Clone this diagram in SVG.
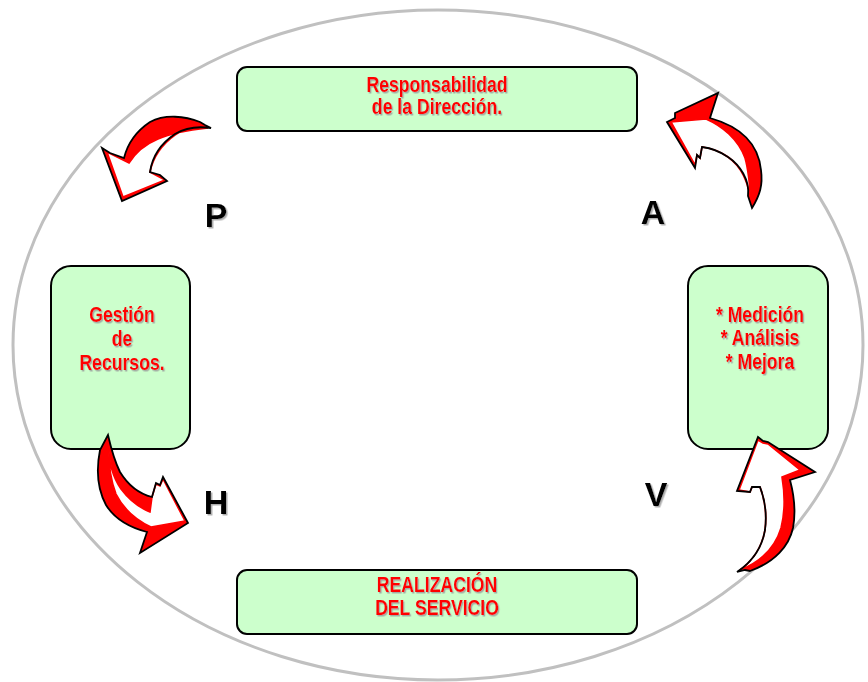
<svg xmlns="http://www.w3.org/2000/svg" width="868" height="682" viewBox="0 0 868 682">
  <style>
    .box { fill: #ccffcc; stroke: #000; stroke-width: 2; }
    .lbl { font-family: "Liberation Sans", Arial, sans-serif; font-weight: bold; font-size: 21.5px; fill: #ff0000; text-anchor: middle; filter: url(#shade); }
    .phase { font-family: "Liberation Sans", Arial, sans-serif; font-weight: bold; font-size: 34px; fill: #000; text-anchor: middle; filter: url(#shade); }
    .back { fill: #ff0000; stroke: none; }
    .face { fill: #fff; stroke: #ff0000; stroke-width: 1.6; }
    .edge { fill: none; stroke: #000; stroke-width: 1.8; stroke-linejoin: miter; }
  </style>
  <defs>
    <filter id="shade" x="-10%" y="-10%" width="130%" height="140%">
      <feDropShadow dx="1.5" dy="1.5" stdDeviation="0.6" flood-color="#999" flood-opacity="0.8"/>
    </filter>
  </defs>

  <rect width="868" height="682" fill="#fff"/>
  <ellipse cx="438" cy="345" rx="425" ry="335" fill="none" stroke="#c0c0c0" stroke-width="3"/>

  <g id="node-direccion">
    <rect class="box" x="237" y="67" width="400" height="64" rx="10"/>
    <text class="lbl" transform="translate(437,92) scale(0.82,1)">Responsabilidad</text>
    <text class="lbl" transform="translate(437,114) scale(0.82,1)">de la Dirección.</text>
  </g>

  <g id="node-recursos">
    <rect class="box" x="51" y="266" width="139" height="183" rx="20"/>
    <text class="lbl" transform="translate(122,322) scale(0.82,1)">Gestión</text>
    <text class="lbl" transform="translate(122,346) scale(0.82,1)">de</text>
    <text class="lbl" transform="translate(122,370) scale(0.82,1)">Recursos.</text>
  </g>

  <g id="node-medicion">
    <rect class="box" x="688" y="266" width="140" height="183" rx="20"/>
    <text class="lbl" transform="translate(760,322) scale(0.82,1)">* Medición</text>
    <text class="lbl" transform="translate(760,345) scale(0.82,1)">* Análisis</text>
    <text class="lbl" transform="translate(760,369) scale(0.82,1)">* Mejora</text>
  </g>

  <g id="node-servicio">
    <rect class="box" x="237" y="570" width="400" height="64" rx="10"/>
    <text class="lbl" transform="translate(437,592) scale(0.82,1)">REALIZACIÓN</text>
    <text class="lbl" transform="translate(437,615) scale(0.82,1)">DEL SERVICIO</text>
  </g>

  <g id="phase-labels">
    <text class="phase" x="216" y="227">P</text>
    <text class="phase" x="653" y="224">A</text>
    <text class="phase" x="216" y="514">H</text>
    <text class="phase" x="656" y="506">V</text>
  </g>

  <!-- curved cycle arrows: red back, white front face, black outline -->
  <g id="connectors">
    <g id="arrow-p">
      <path class="back" d="M200,122 C185,116 165,114 150,122 C138,130 128,142 124,158 L110,153 L102,148 L122,201 L167,181 L160,175 L150,172 C152,158 160,144 175,134 C185,128 197,126 211,128 L205,125 Z"/>
      <path class="face" d="M208,128 C196,127 184,129 175,135 C161,145 153,158 150,172 L165,180 L123,197 L107,152 L129,163 C136,152 146,144 158,139 C172,133 190,130 208,128 Z"/>
      <path class="edge" d="M200,122 C185,116 165,114 150,122 C138,130 128,142 124,158 L110,153 L102,148 L122,201 L167,181 L160,175 L150,172 C152,158 160,144 175,134 C185,128 197,126 211,128 L205,125 Z"/>
    </g>
    <g id="arrow-a">
      <path class="back" d="M667,122 L675,118 L675,113 L718,93 L710,118 C735,125 758,140 761,170 C763,185 760,195 752,208 L748,196 C750,180 740,165 728,157 C718,150 710,148 702,147 L700,158 L697,155 L695,168 Z"/>
      <path class="face" d="M671,122 L706,119 C722,126 738,139 745,158 C749,172 750,188 751,203 C749,185 742,167 728,157 C718,150 710,148 702,147 L700,158 L697,155 L695,165 Z"/>
      <path class="edge" d="M667,122 L675,118 L675,113 L718,93 L710,118 C735,125 758,140 761,170 C763,185 760,195 752,208 L748,196 C750,180 740,165 728,157 C718,150 710,148 702,147 L700,158 L697,155 L695,168 Z"/>
    </g>
    <g id="arrow-h">
      <path class="back" d="M108,435 L100,450 C96,470 98,490 106,505 C114,518 128,527 147,532 L140,553 L188,523 L163,477 L160,485 L156,483 L152,497 C140,494 128,485 120,472 C114,460 111,448 108,435 Z"/>
      <path class="face" d="M109,440 C108,458 112,476 121,489 C130,501 140,508 150,512 L152,497 L156,484 L160,486 L163,479 L185,521 L151,527 C138,521 124,510 116,494 C110,478 108,458 109,440 Z"/>
      <path class="edge" d="M108,435 L100,450 C96,470 98,490 106,505 C114,518 128,527 147,532 L140,553 L188,523 L163,477 L160,485 L156,483 L152,497 C140,494 128,485 120,472 C114,460 111,448 108,435 Z"/>
    </g>
    <g id="arrow-v">
      <path class="back" d="M737,572 C752,562 762,548 765,530 C767,515 765,500 760,487 L752,487 L750,492 L737,491 L758,437 L763,441 L768,442 L815,472 L790,480 C794,495 796,512 793,528 C789,546 775,562 750,571 L745,570 Z"/>
      <path class="face" d="M740,570 C754,560 762,546 765,530 C767,514 765,500 760,487 L752,487 L750,492 L739,490 L758,440 L763,443 L768,444 L800,470 L782,477 C785,495 785,512 781,528 C775,548 760,562 740,570 Z"/>
      <path class="edge" d="M737,572 C752,562 762,548 765,530 C767,515 765,500 760,487 L752,487 L750,492 L737,491 L758,437 L763,441 L768,442 L815,472 L790,480 C794,495 796,512 793,528 C789,546 775,562 750,571 L745,570 Z"/>
    </g>
  </g>
</svg>
